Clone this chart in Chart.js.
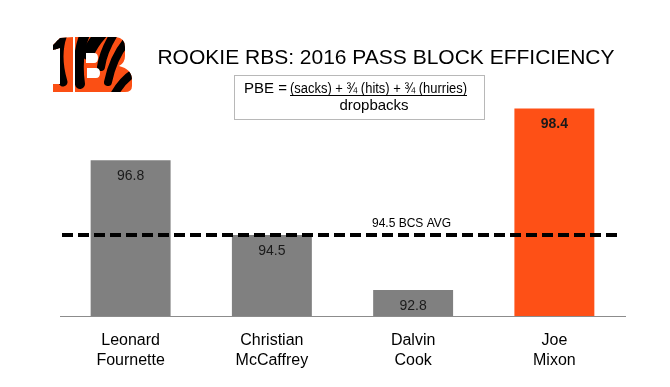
<!DOCTYPE html>
<html>
<head>
<meta charset="utf-8">
<script src="https://cdn.jsdelivr.net/npm/chart.js@4.4.1/dist/chart.umd.min.js"></script>
<style>
  html, body { margin: 0; padding: 0; background: #ffffff; }
  #wrap { width: 670px; height: 387px; }
</style>
</head>
<body>
<div id="wrap"><canvas id="pbe" width="670" height="387"></canvas></div>
<script>
const players = [['Leonard', 'Fournette'], ['Christian', 'McCaffrey'], ['Dalvin', 'Cook'], ['Joe', 'Mixon']];
const pbe = [96.8, 94.5, 92.8, 98.4];
const barColors = ['#808080', '#808080', '#808080', '#fe5016'];
const bcsAvg = 94.5;
const avgLabel = '94.5 BCS AVG';
const chartTitle = 'ROOKIE RBS: 2016 PASS BLOCK EFFICIENCY';

const FONT = '"Liberation Sans", Arial, sans-serif';

// bengals logo, rough shapes
function drawLogo(ctx) {
    ctx.save();
    const shape = new Path2D();
    // the "1"
    shape.moveTo(53, 45); shape.lineTo(60, 38); shape.lineTo(73, 37); shape.lineTo(73, 84);
    shape.lineTo(77, 84); shape.lineTo(77, 92); shape.lineTo(53, 92); shape.lineTo(53, 84);
    shape.lineTo(60, 84); shape.lineTo(60, 48); shape.lineTo(53, 50); shape.closePath();
    // the "B"
    shape.moveTo(75, 37); shape.lineTo(116, 37);
    shape.quadraticCurveTo(125, 38, 125, 47); shape.lineTo(125, 56);
    shape.quadraticCurveTo(125, 63, 119, 66);
    shape.quadraticCurveTo(132, 69, 132, 80); shape.lineTo(132, 86);
    shape.quadraticCurveTo(132, 92, 125, 92);
    shape.lineTo(75, 92); shape.closePath();
    ctx.fillStyle = '#fb4f14';
    ctx.fill(shape);
    ctx.clip(shape);
    ctx.strokeStyle = '#000000';
    ctx.lineCap = 'round';
    const stripes = [
        [63, 34, 55, 55, 63, 82, 9],
        [54, 40, 50, 45, 54, 50, 8],
        [85, 34, 76, 55, 80, 84, 10],
        [101, 34, 92, 44, 88, 54, 12],
        [114, 34, 103, 52, 101, 67, 8],
        [126, 42, 113, 58, 108, 82, 8],
        [135, 72, 122, 80, 114, 95, 8]
    ];
    stripes.forEach(s => {
        ctx.lineWidth = s[6];
        ctx.beginPath();
        ctx.moveTo(s[0], s[1]);
        ctx.quadraticCurveTo(s[2], s[3], s[4], s[5]);
        ctx.stroke();
    });
    ctx.restore();
    // counters
    ctx.fillStyle = '#ffffff';
    ctx.beginPath();
    ctx.moveTo(86, 53); ctx.lineTo(94, 53); ctx.quadraticCurveTo(98, 53, 98, 58);
    ctx.quadraticCurveTo(98, 63, 94, 63); ctx.lineTo(86, 63); ctx.closePath();
    ctx.moveTo(87, 68); ctx.lineTo(96, 68); ctx.quadraticCurveTo(100, 68, 100, 73);
    ctx.quadraticCurveTo(100, 78, 96, 78); ctx.lineTo(87, 78); ctx.closePath();
    ctx.fill();
    ctx.fillRect(73, 37, 2, 55);
}

const decor = {
    id: 'decor',
    afterDatasetsDraw(chart) {
        const ctx = chart.ctx;
        const y = chart.scales.y;
        const meta = chart.getDatasetMeta(0);

        // value labels inside bars
        ctx.save();
        ctx.textAlign = 'center';
        ctx.textBaseline = 'alphabetic';
        ctx.fillStyle = '#1a1a1a';
        meta.data.forEach((bar, i) => {
            ctx.font = (i === 3 ? 'bold ' : '') + '14px ' + FONT;
            ctx.fillText(pbe[i].toFixed(1), bar.x, bar.y + 20);
        });

        // average line
        const ay = y.getPixelForValue(bcsAvg);
        ctx.strokeStyle = '#000000';
        ctx.lineWidth = 4;
        ctx.setLineDash([11, 5]);
        ctx.beginPath();
        ctx.moveTo(62, ay);
        ctx.lineTo(618, ay);
        ctx.stroke();
        ctx.setLineDash([]);
        ctx.font = '12px ' + FONT;
        ctx.textAlign = 'left';
        ctx.fillStyle = '#000000';
        ctx.fillText(avgLabel, 372, ay - 8);

        // title
        ctx.font = '21px ' + FONT;
        ctx.textAlign = 'center';
        ctx.fillText(chartTitle, 386, 64);

        // formula box
        ctx.strokeStyle = '#b8b8b8';
        ctx.lineWidth = 1;
        ctx.strokeRect(234.5, 75.5, 250, 44);
        ctx.textAlign = 'left';
        ctx.font = '15px ' + FONT;
        ctx.fillText('PBE =', 244, 93);
        // numerator is a narrow face in the original, squeeze it to fit
        ctx.font = '14px ' + FONT;
        const num = '(sacks) + \u00be (hits) + \u00be (hurries)';
        const w = ctx.measureText(num).width;
        const target = 177;
        ctx.save();
        ctx.translate(290, 93);
        ctx.scale(target / w, 1);
        ctx.fillText(num, 0, 0);
        ctx.restore();
        ctx.fillRect(290, 95, target, 1);
        ctx.font = '15px ' + FONT;
        ctx.textAlign = 'center';
        ctx.fillText('dropbacks', 374, 110);
        ctx.restore();

        drawLogo(ctx);
    }
};

new Chart(document.getElementById('pbe').getContext('2d'), {
    type: 'bar',
    data: {
        labels: players,
        datasets: [{
            data: pbe,
            backgroundColor: barColors,
            borderWidth: 0,
            barPercentage: 0.566,
            categoryPercentage: 1
        }]
    },
    options: {
        responsive: false,
        animation: false,
        layout: { padding: { top: 89, left: 60, right: 45, bottom: 0 } },
        plugins: { legend: { display: false }, tooltip: { enabled: false } },
        scales: {
            x: {
                grid: { display: false },
                border: { display: true, color: '#8c8c8c', width: 1 },
                ticks: { color: '#000000', padding: 7, font: { family: FONT, size: 16, lineHeight: 1.25 } },
                afterFit(scale) { scale.height = 71; }
            },
            y: { display: false, min: 92, max: 99 }
        }
    },
    plugins: [decor]
});
</script>
</body>
</html>
